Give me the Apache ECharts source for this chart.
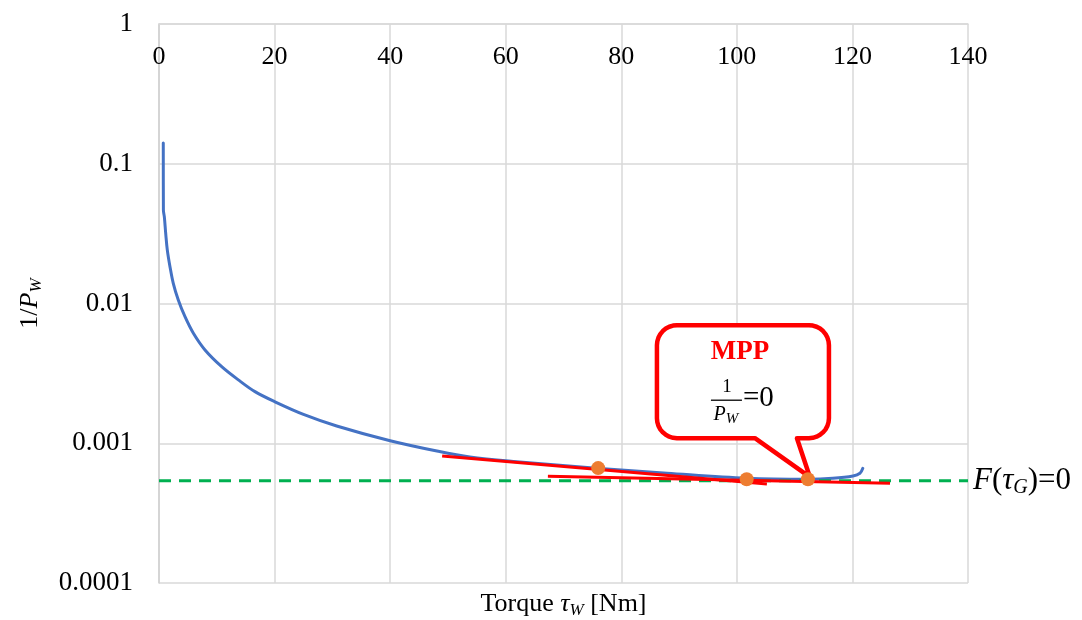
<!DOCTYPE html>
<html>
<head>
<meta charset="utf-8">
<script src="https://cdn.jsdelivr.net/npm/echarts@6/dist/echarts.min.js"></script>
<style>
  html, body { margin: 0; padding: 0; background: #fff; }
  #chart { width: 1082px; height: 620px; }
</style>
</head>
<body>
<div id="chart"></div>
<script>
  // 1/P_W curve
  const torque = [0.74, 0.76, 0.92, 1.16, 1.44, 1.90, 2.47, 3.34, 4.5, 5.95, 7.96, 10.85, 13.73, 16.61,
    20.07, 25.0, 30.75, 40.0, 48.1, 53.8, 61.9, 75.7, 87.9, 101.7, 112.4, 116.6, 120.1, 121.3, 121.8];
  const invPower = [0.141, 0.0467, 0.0418, 0.0318, 0.0241, 0.01834, 0.01395, 0.01059, 0.00804, 0.00612,
    0.00465, 0.00353, 0.00284, 0.00234, 0.00198, 0.00161, 0.00133, 0.001043, 0.00088, 0.000798,
    0.000738, 0.000662, 0.00061, 0.000561, 0.000552, 0.000561, 0.000583, 0.00061, 0.000662];

  // tangent lines (red)
  const tangentAX = [49.0, 105.2];
  const tangentAY = [0.00081, 0.00051];
  const tangentBX = [67.3, 126.5];
  const tangentBY = [0.000581, 0.000518];

  // orange points, last one is the MPP
  const dotX = [76.0, 101.7, 112.3];
  const dotY = [0.000664, 0.000553, 0.000553];

  // F(tau_G)=0 level
  const levelX = [0, 140];
  const levelY = 0.00054;

  const xTicks = [0, 20, 40, 60, 80, 100, 120, 140];
  const yTickLabels = ['0.0001', '0.001', '0.01', '0.1', '1'];

  const serif = '"Liberation Serif", "Times New Roman", serif';
  const chart = echarts.init(document.getElementById('chart'));

  const pairs = (xs, ys) => xs.map((x, i) => [x, ys[i]]);

  chart.setOption({
    animation: false,
    backgroundColor: '#fff',
    grid: { left: 159, right: 114, top: 24, bottom: 37 },
    xAxis: {
      type: 'value',
      position: 'top',
      min: xTicks[0],
      max: xTicks[xTicks.length - 1],
      interval: 20,
      axisLine: { show: true, lineStyle: { color: '#d9d9d9', width: 1.5 } },
      axisTick: { show: false },
      axisLabel: {
        inside: true,
        margin: 20,
        fontFamily: serif,
        fontSize: 26,
        color: '#000',
        showMinLabel: true,
        showMaxLabel: true,
      },
      splitLine: { show: true, lineStyle: { color: '#d9d9d9', width: 1.5 } },
    },
    yAxis: {
      type: 'log',
      logBase: 10,
      min: 0.0001,
      max: 1,
      axisLine: { show: true, lineStyle: { color: '#d0d0d0', width: 1.5 } },
      axisTick: { show: false },
      axisLabel: {
        margin: 26,
        fontFamily: serif,
        fontSize: 27,
        color: '#000',
        formatter: (v) => yTickLabels[Math.round(Math.log10(v)) + 4] || '',
      },
      splitLine: { show: true, lineStyle: { color: '#d9d9d9', width: 1.5 } },
    },
    series: [
      {
        name: 'invPower',
        type: 'line',
        data: pairs(torque, invPower),
        showSymbol: false,
        smooth: 0.35,
        lineStyle: { color: '#4472C4', width: 3, join: 'round', cap: 'round' },
        z: 2,
      },
      {
        name: 'level',
        type: 'line',
        data: levelX.map((x) => [x, levelY]),
        showSymbol: false,
        lineStyle: { color: '#00B050', width: 3, type: [12, 8] },
        endLabel: {
          show: true,
          distance: 5,
          color: '#000',
          formatter: '{i|F}{n|(}{i|τ}{s|G}{n|)=0}',
          rich: {
            i: { fontFamily: serif, fontStyle: 'italic', fontSize: 31, lineHeight: 34, color: '#000' },
            n: { fontFamily: serif, fontSize: 31, lineHeight: 34, color: '#000' },
            s: { fontFamily: serif, fontStyle: 'italic', fontSize: 20, lineHeight: 20, verticalAlign: 'bottom', color: '#000' },
          },
        },
        z: 3,
      },
      {
        name: 'tangentA',
        type: 'line',
        data: pairs(tangentAX, tangentAY),
        showSymbol: false,
        lineStyle: { color: '#FF0000', width: 3 },
        z: 4,
      },
      {
        name: 'tangentB',
        type: 'line',
        data: pairs(tangentBX, tangentBY),
        showSymbol: false,
        lineStyle: { color: '#FF0000', width: 3 },
        z: 4,
      },
      {
        name: 'points',
        type: 'scatter',
        data: pairs(dotX, dotY),
        symbolSize: 14,
        itemStyle: { color: '#ED7D31', opacity: 1 },
        z: 5,
      },
    ],
  });

  // callout pointing at the MPP point
  function calloutOutline(L, T, R, B, r, tailL, tailR) {
    const pts = [];
    const arc = (cx, cy, a0, a1) => {
      for (let k = 0; k <= 8; k++) {
        const a = a0 + (a1 - a0) * k / 8;
        pts.push([cx + r * Math.cos(a), cy + r * Math.sin(a)]);
      }
    };
    arc(L + r, T + r, Math.PI, 1.5 * Math.PI);
    arc(R - r, T + r, 1.5 * Math.PI, 2 * Math.PI);
    arc(R - r, B - r, 0, 0.5 * Math.PI);
    pts.push([tailR, B], [0, 0], [tailL, B]);
    arc(L + r, B - r, 0.5 * Math.PI, Math.PI);
    return pts;
  }

  const mpp = chart.convertToPixel({ xAxisIndex: 0, yAxisIndex: 0 }, [dotX[2], dotY[2]]);
  const plotLeft = 159, plotRight = 1082 - 114, plotTop = 24, plotBottom = 620 - 37;

  chart.setOption({
    graphic: [
      {
        type: 'group',
        x: mpp[0] + 2,
        y: mpp[1] - 2,
        z: 100,
        children: [
          {
            type: 'polygon',
            shape: { points: calloutOutline(-153, -152, 19, -39, 20, -55, -13) },
            style: { fill: '#fff', stroke: '#FF0000', lineWidth: 4.5, lineJoin: 'round' },
          },
          {
            type: 'text',
            x: -70, y: -125,
            style: { text: 'MPP', font: 'bold 27px ' + serif, fill: '#FF0000', align: 'center', verticalAlign: 'middle' },
          },
          {
            type: 'text',
            x: -83, y: -90,
            style: { text: '1', font: '19px ' + serif, fill: '#000', align: 'center', verticalAlign: 'middle' },
          },
          {
            type: 'line',
            shape: { x1: -99, y1: -77, x2: -68, y2: -77 },
            style: { stroke: '#000', lineWidth: 1.3 },
          },
          {
            type: 'text',
            x: -84, y: -62,
            style: {
              text: '{i|P}{s|W}',
              align: 'center',
              verticalAlign: 'middle',
              rich: {
                i: { fontFamily: serif, fontStyle: 'italic', fontSize: 20, lineHeight: 22, fill: '#000' },
                s: { fontFamily: serif, fontStyle: 'italic', fontSize: 15, lineHeight: 14, verticalAlign: 'bottom', fill: '#000' },
              },
            },
          },
          {
            type: 'text',
            x: -67, y: -79,
            style: { text: '=0', font: '29px ' + serif, fill: '#000', align: 'left', verticalAlign: 'middle' },
          },
        ],
      },
      {
        type: 'text',
        x: (plotLeft + plotRight) / 2,
        y: 604,
        style: {
          text: '{n|Torque }{i|τ}{s|W}{n| [Nm]}',
          align: 'center',
          verticalAlign: 'middle',
          rich: {
            n: { fontFamily: serif, fontSize: 26, lineHeight: 30, fill: '#000' },
            i: { fontFamily: serif, fontStyle: 'italic', fontSize: 26, lineHeight: 30, fill: '#000' },
            s: { fontFamily: serif, fontStyle: 'italic', fontSize: 17, lineHeight: 16, verticalAlign: 'bottom', fill: '#000' },
          },
        },
      },
      {
        type: 'text',
        x: 30,
        y: (plotTop + plotBottom) / 2,
        rotation: Math.PI / 2,
        style: {
          text: '{n|1/}{i|P}{s|W}',
          align: 'center',
          verticalAlign: 'middle',
          rich: {
            n: { fontFamily: serif, fontSize: 26, lineHeight: 30, fill: '#000' },
            i: { fontFamily: serif, fontStyle: 'italic', fontSize: 26, lineHeight: 30, fill: '#000' },
            s: { fontFamily: serif, fontStyle: 'italic', fontSize: 17, lineHeight: 16, verticalAlign: 'bottom', fill: '#000' },
          },
        },
      },
    ],
  });
</script>
</body>
</html>
